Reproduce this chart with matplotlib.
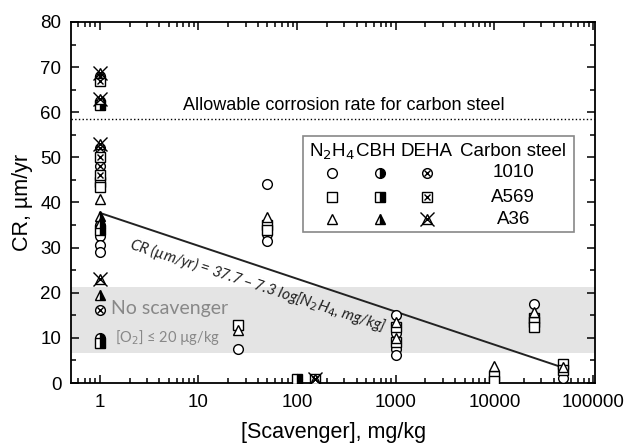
import numpy as np
import matplotlib
matplotlib.use('Agg')
import matplotlib.pyplot as plt
from matplotlib.patches import Rectangle
from matplotlib.ticker import LogLocator, MultipleLocator, NullFormatter

plt.rcParams['font.family'] = ['Liberation Sans', 'DejaVu Sans']

# N2H4 (open markers)
n2h4_1010_x = [1, 1, 1, 25, 50, 50, 50, 1000, 1000, 1000, 1000, 25000, 50000]
n2h4_1010_y = [32.5, 30.5, 29.0, 7.5, 44.2, 33.0, 31.5, 15.0, 11.0, 7.5, 6.3, 17.5, 1.2]
n2h4_a569_x = [1, 1, 25, 50, 50, 1000, 1000, 10000, 10000, 25000, 25000, 25000, 50000, 50000]
n2h4_a569_y = [44.5, 43.5, 12.8, 35.0, 34.0, 12.5, 9.0, 1.5, 0.5, 14.5, 13.5, 12.5, 4.2, 2.8]
n2h4_a36_x = [1, 25, 50, 1000, 1000, 10000, 25000, 50000]
n2h4_a36_y = [40.8, 11.8, 36.8, 13.5, 10.0, 3.8, 15.8, 3.5]

# CBH (half filled markers)
cbh_1010_x = [1, 1, 1, 100]
cbh_1010_y = [62.5, 35.0, 10.0, 1.0]
cbh_a569_x = [1, 1, 1, 100]
cbh_a569_y = [61.5, 34.0, 8.8, 1.0]
cbh_a36_x = [1, 1, 1]
cbh_a36_y = [37.0, 35.5, 19.5]

# DEHA (crossed markers)
deha_1010_x = [1, 1, 1, 1, 150]
deha_1010_y = [68.0, 52.0, 48.0, 16.2, 1.0]
deha_a569_x = [1, 1, 1, 150]
deha_a569_y = [67.0, 50.0, 46.0, 1.0]
deha_a36_x = [1, 1, 1, 1, 150]
deha_a36_y = [68.8, 63.0, 53.0, 23.0, 1.0]

# fit CR = a - b log[N2H4]
fit_a = 37.7
fit_b = 7.3
fit_range = [1, 50000]
allowable_cr = 58.4
band = [6.7, 21.3]

fig = plt.figure(figsize=(6.3, 4.48), dpi=100)
ax = fig.add_axes([0.1127, 0.145, 0.832, 0.806])

ms = 7
ax.axhspan(band[0], band[1], color='#e4e4e4', lw=0, zorder=0)
ax.axhline(allowable_cr, color='black', ls=':', lw=1, zorder=1)

fx = np.logspace(np.log10(fit_range[0]), np.log10(fit_range[1]), 50)
ax.plot(fx, fit_a - fit_b * np.log10(fx), color='#222222', lw=1.4, zorder=2)


def open_pts(x, y, m, **kw):
    ax.plot(x, y, ls='none', marker=m, ms=ms, mfc='white', mec='black',
            mew=1, zorder=3, **kw)


def half_pts(x, y, m, **kw):
    ax.plot(x, y, ls='none', marker=m, ms=ms, fillstyle='right', mfc='black',
            mfcalt='white', mec='black', mew=1, zorder=4, **kw)


def cross_pts(x, y, m, xs, **kw):
    ax.plot(x, y, ls='none', marker=m, ms=ms, mfc='white', mec='black',
            mew=1, zorder=5, **kw)
    ax.plot(x, y, ls='none', marker='x', ms=xs, mec='black', mew=1,
            zorder=6, **kw)


open_pts(n2h4_1010_x, n2h4_1010_y, 'o')
open_pts(n2h4_a569_x, n2h4_a569_y, 's')
open_pts(n2h4_a36_x, n2h4_a36_y, '^')
half_pts(cbh_1010_x, cbh_1010_y, 'o')
half_pts(cbh_a569_x, cbh_a569_y, 's')
half_pts(cbh_a36_x, cbh_a36_y, '^')
cross_pts(deha_1010_x, deha_1010_y, 'o', 4.5)
cross_pts(deha_a569_x, deha_a569_y, 's', 4.5)
cross_pts(deha_a36_x, deha_a36_y, '^', 10)

ax.set_xscale('log')
ax.set_xlim(0.51, 1.05e5)
ax.set_ylim(0, 80)
ax.set_xticks([1, 10, 100, 1000, 10000, 100000])
ax.set_xticklabels(['1', '10', '100', '1000', '10000', '100000'])
ax.xaxis.set_minor_locator(LogLocator(base=10, subs=np.arange(2, 10), numticks=20))
ax.xaxis.set_minor_formatter(NullFormatter())
ax.yaxis.set_major_locator(MultipleLocator(10))
ax.yaxis.set_minor_locator(MultipleLocator(5))
ax.tick_params(which='both', direction='in', top=True, right=True,
               labelsize=13.5, width=1.1, color='black')
ax.tick_params(which='major', length=6)
ax.tick_params(axis='x', which='major', pad=8)
ax.tick_params(axis='y', which='major', pad=7)
ax.tick_params(which='minor', length=3.5)
for s in ax.spines.values():
    s.set_linewidth(1.3)

ax.set_xlabel('[Scavenger], mg/kg', fontsize=15.5, labelpad=8)
ax.set_ylabel('CR, µm/yr', fontsize=15.5, labelpad=5)

ax.text(300, 61.6, 'Allowable corrosion rate for carbon steel', fontsize=13,
        ha='center', va='center')
ax.text(1.3, 16.6, 'No scavenger', fontsize=14, color='#888888',
        family=['Lato', 'DejaVu Sans'], ha='left', va='center')
ax.text(1.42, 10.0, '[O$_2$] ≤ 20 µg/kg', fontsize=10.5, color='#888888',
        family=['Lato', 'DejaVu Sans'], ha='left', va='center')
ax.text(40, 21.8, 'CR (µm/yr) = 37.7 – 7.3 log[N$_2$H$_4$, mg/kg]',
        fontsize=11, style='italic', color='#222222',
        family=['Lato', 'DejaVu Sans'], rotation=-18,
        rotation_mode='anchor', ha='center', va='center')

# hand-made legend
tr = ax.transAxes
ax.add_patch(Rectangle((0.443, 0.418), 0.517, 0.266, transform=tr,
                       facecolor='white', edgecolor='#888888', lw=1.2,
                       zorder=7))
col_x = [0.498, 0.590, 0.679]
head_x = [0.498, 0.581, 0.678]
headers = ['N$_2$H$_4$', 'CBH', 'DEHA']
for hx, h in zip(head_x, headers):
    ax.text(hx, 0.640, h, transform=tr, fontsize=13.5, ha='center',
            va='center', zorder=8)
ax.text(0.844, 0.640, 'Carbon steel', transform=tr, fontsize=13.5,
        ha='center', va='center', zorder=8)

rows_y = [0.582, 0.515, 0.454]
steels = ['1010', 'A569', 'A36']
shapes = ['o', 's', '^']
for ry, st, m in zip(rows_y, steels, shapes):
    ax.plot(col_x[0], ry, transform=tr, marker=m, ms=ms, mfc='white',
            mec='black', mew=1, clip_on=False, zorder=8)
    ax.plot(col_x[1], ry, transform=tr, marker=m, ms=ms, fillstyle='right',
            mfc='black', mfcalt='white', mec='black', mew=1, clip_on=False,
            zorder=8)
    ax.plot(col_x[2], ry, transform=tr, marker=m, ms=ms, mfc='white',
            mec='black', mew=1, clip_on=False, zorder=8)
    ax.plot(col_x[2], ry, transform=tr, marker='x',
            ms=10 if m == '^' else 4.5, mec='black', mew=1, clip_on=False,
            zorder=9)
    ax.text(0.844, ry, st, transform=tr, fontsize=13.5, ha='center',
            va='center', zorder=8)

fig.savefig('out.png', dpi=100)
